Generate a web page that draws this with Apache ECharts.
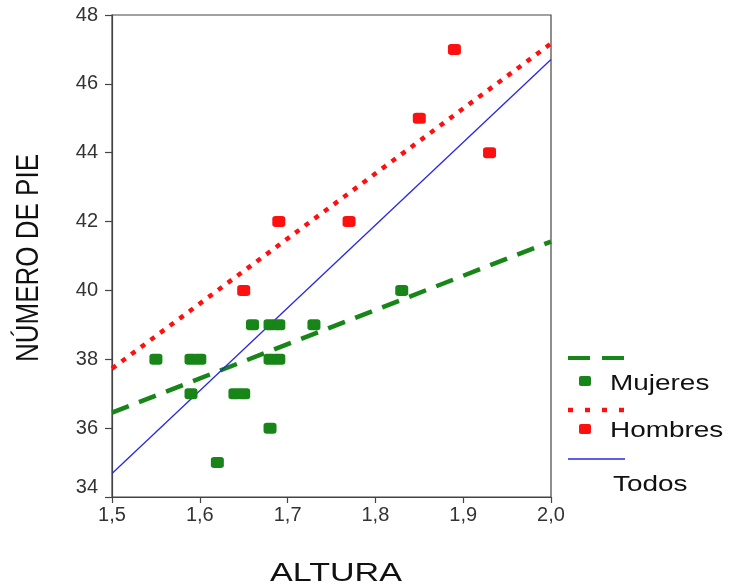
<!DOCTYPE html>
<html>
<head>
<meta charset="utf-8">
<script src="https://cdn.jsdelivr.net/npm/echarts@6/dist/echarts.min.js"></script>
<style>
  html, body { margin: 0; padding: 0; background: #fff; }
  #chart { width: 730px; height: 585px; }
</style>
</head>
<body>
<div id="chart"></div>
<script>
// Altura (m) vs número de pie
const mujeres = [
  [1.55, 38], [1.59, 38], [1.60, 38], [1.59, 37], [1.62, 35],
  [1.64, 37], [1.65, 37], [1.66, 39], [1.68, 39], [1.69, 39],
  [1.68, 38], [1.69, 38], [1.68, 36], [1.73, 39], [1.83, 40]
];
const hombres = [
  [1.65, 40], [1.69, 42], [1.77, 42], [1.85, 45], [1.89, 47], [1.93, 44]
];
// Rectas de ajuste (extremos en 1,5 y 2,0)
const ajusteMujeres = [[1.5, 36.45], [2.0, 41.42]];
const ajusteHombres = [[1.5, 37.73], [2.0, 47.17]];
const ajusteTodos = [[1.5, 34.68], [2.0, 46.71]];

const xTicks = { min: 1.5, max: 2.0, step: 0.1 };
const yTicks = { min: 34, max: 48, step: 2 };

const GREEN = '#178517';
const RED = '#ff1010';
const BLUE = '#2828e6';
const FONT = '"Liberation Sans", Arial, sans-serif';
const WIDE = 1.27; // horizontal stretch of the titles and legend text

const chart = echarts.init(document.getElementById('chart'));

function wideText(x, y, text, size, scale) {
  return {
    type: 'text', x: x, y: y, scaleX: scale || WIDE,
    style: { text: text, fontSize: size, fontFamily: FONT, fill: '#111', verticalAlign: 'middle' }
  };
}

chart.setOption({
  animation: false,
  textStyle: { fontFamily: FONT },
  grid: {
    left: 112, top: 15, right: 179, bottom: 88,
    show: true, borderColor: '#444', borderWidth: 1.2,
    containLabel: false, outerBoundsMode: 'none'
  },
  xAxis: {
    type: 'value',
    min: xTicks.min, max: xTicks.max, interval: xTicks.step,
    axisLine: { show: true, lineStyle: { color: '#444', width: 1.2 } },
    axisTick: { show: true, length: 6, lineStyle: { color: '#444', width: 1.2 } },
    axisLabel: {
      fontSize: 20, color: '#333', margin: 8, fontFamily: FONT,
      formatter: v => v.toFixed(1).replace('.', ',')
    },
    splitLine: { show: false }
  },
  yAxis: {
    type: 'value',
    min: yTicks.min, max: yTicks.max, interval: yTicks.step,
    axisLine: { show: true, lineStyle: { color: '#444', width: 1.2 } },
    axisTick: { show: true, length: 7, lineStyle: { color: '#444', width: 1.2 } },
    axisLabel: {
      fontSize: 20, color: '#333', margin: 14, fontFamily: FONT,
      formatter: v => (v === yTicks.min ? '{lo|' + v + '}' : String(v)),
      rich: { lo: { fontSize: 20, color: '#333', fontFamily: FONT, padding: [0, 0, 20, 0] } }
    },
    splitLine: { show: false }
  },
  series: [
    {
      name: 'Mujeres', type: 'scatter', data: mujeres,
      symbol: 'roundRect', symbolSize: [13, 11],
      itemStyle: { color: GREEN, opacity: 1 }, z: 3
    },
    {
      name: 'Hombres', type: 'scatter', data: hombres,
      symbol: 'roundRect', symbolSize: [13, 11],
      itemStyle: { color: RED, opacity: 1 }, z: 3
    },
    {
      name: 'Ajuste Mujeres', type: 'line', data: ajusteMujeres,
      showSymbol: false, silent: true, z: 2,
      lineStyle: { color: GREEN, width: 4.5, type: [18, 11] }
    },
    {
      name: 'Ajuste Hombres', type: 'line', data: ajusteHombres,
      showSymbol: false, silent: true, z: 2,
      lineStyle: { color: RED, width: 4.5, type: [5, 7] }
    },
    {
      name: 'Todos', type: 'line', data: ajusteTodos,
      showSymbol: false, silent: true, z: 2,
      lineStyle: { color: BLUE, width: 1.3 }
    }
  ],
  graphic: [
    // títulos de los ejes
    wideText(270, 574, 'ALTURA', 26, 1.31),
    {
      type: 'text', x: 29, y: 362, rotation: Math.PI / 2, scaleY: 1.2,
      style: { text: 'NÚMERO DE PIE', fontSize: 26, fontFamily: FONT, fill: '#111',
               verticalAlign: 'middle', align: 'left' }
    },
    // leyenda
    { type: 'line', shape: { x1: 568, y1: 358, x2: 625, y2: 358 },
      style: { stroke: GREEN, lineWidth: 4, lineDash: [22, 12] } },
    { type: 'rect', shape: { x: 579, y: 376, width: 12, height: 10, r: 2 },
      style: { fill: GREEN } },
    wideText(610, 384, 'Mujeres', 22),
    { type: 'line', shape: { x1: 568, y1: 410, x2: 625, y2: 410 },
      style: { stroke: RED, lineWidth: 4.5, lineDash: [5, 12] } },
    { type: 'rect', shape: { x: 579, y: 424, width: 12, height: 10, r: 2 },
      style: { fill: RED } },
    wideText(610, 431, 'Hombres', 22),
    { type: 'line', shape: { x1: 568, y1: 459, x2: 625, y2: 459 },
      style: { stroke: BLUE, lineWidth: 1.3 } },
    wideText(613, 485, 'Todos', 22)
  ]
});
</script>
</body>
</html>
